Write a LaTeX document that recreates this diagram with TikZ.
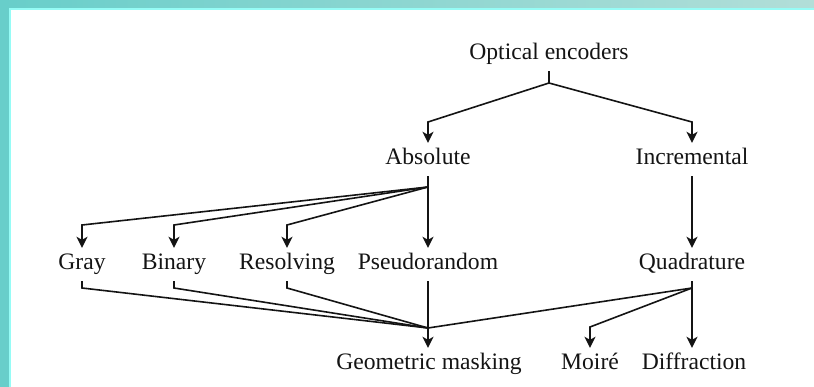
\documentclass[tikz,border=0pt]{standalone}
\usepackage{fontspec}
\setmainfont{Liberation Serif}
\usetikzlibrary{arrows.meta}
\definecolor{frameteal}{RGB}{104,206,202}
\definecolor{framefade}{RGB}{178,222,216}
\definecolor{frameglow}{RGB}{150,252,246}
\definecolor{ink}{RGB}{20,20,20}
\begin{document}
\begin{tikzpicture}[x=1pt,y=-1pt,
  lbl/.style={anchor=base,inner xsep=0pt,inner ysep=6pt,text height=16pt,text depth=5pt,
    font=\fontsize{23.6}{28}\selectfont,text=ink},
  wire/.style={draw=ink,line width=1.6pt,line join=miter},
  arr/.style={wire,-{Stealth[length=11pt,width=11pt,inset=3pt]}}]
% page and frame
\useasboundingbox (0,0) rectangle (814,387);
\fill[white] (0,0) rectangle (814,387);
\shade[left color=frameteal,right color=framefade] (0,0) rectangle (814,8);
\fill[frameteal] (0,0) rectangle (9,387);
\fill[frameglow] (9,8) rectangle (11,387);
\fill[frameglow] (9,8) rectangle (814,10);
% labels
\node[lbl] (oe)  at (549,60)  {Optical encoders};
\node[lbl] (abs) at (428,165) {Absolute};
\node[lbl] (inc) at (692,165) {Incremental};
\node[lbl] (gry) at (82,270)  {Gray};
\node[lbl] (bin) at (174,270) {Binary};
\node[lbl] (res) at (287,270) {Resolving};
\node[lbl] (pse) at (428,270) {Pseudorandom};
\node[lbl] (qua) at (692,270) {Quadrature};
\node[lbl] (geo) at (429,370) {Geometric masking};
\node[lbl] (moi) at (590,370) {Moiré};
\node[lbl] (dif) at (694,370) {Diffraction};
% junctions and bends
\coordinate (j0) at (549,83);
\coordinate (cA) at (428,122);
\coordinate (cI) at (692,122);
\coordinate (jA) at (428,187);
\coordinate (cG) at (82,225);
\coordinate (cB) at (174,225);
\coordinate (cR) at (287,225);
\coordinate (bG) at (82,288);
\coordinate (bB) at (174,288);
\coordinate (bR) at (287,288);
\coordinate (jM) at (428,328);
\coordinate (jQ) at (692,288);
\coordinate (cM) at (590,327);
% top level
\draw[wire] (oe.south) -- (j0);
\draw[arr] (j0) -- (cA) -- (cA |- abs.north);
\draw[arr] (j0) -- (cI) -- (cI |- inc.north);
% absolute branch
\draw[arr] (abs.south) -- (pse.north);
\draw[arr] (jA) -- (cG) -- (cG |- gry.north);
\draw[arr] (jA) -- (cB) -- (cB |- bin.north);
\draw[arr] (jA) -- (cR) -- (cR |- res.north);
% incremental branch
\draw[arr] (inc.south) -- (qua.north);
% towards the readout principles
\draw[wire] (gry.south) -- (bG) -- (jM);
\draw[wire] (bin.south) -- (bB) -- (jM);
\draw[wire] (res.south) -- (bR) -- (jM);
\draw[arr] (pse.south) -- (pse.south |- geo.north);
\draw[wire] (jQ) -- (jM);
\draw[arr] (jQ) -- (cM) -- (cM |- moi.north);
\draw[arr] (qua.south) -- (qua.south |- dif.north);
\end{tikzpicture}
\end{document}
